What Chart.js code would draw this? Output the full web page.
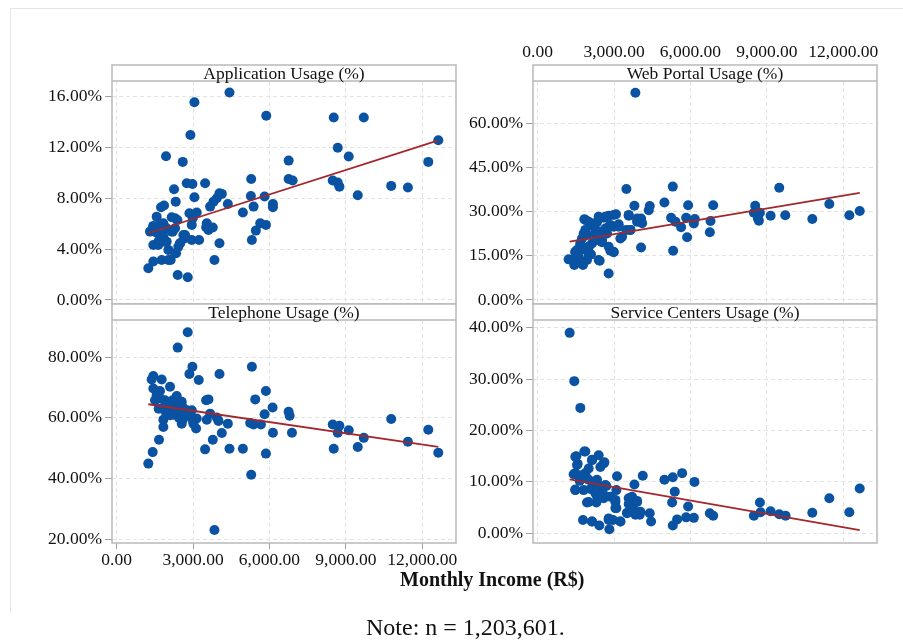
<!DOCTYPE html>
<html>
<head>
<meta charset="utf-8">
<script src="https://cdn.jsdelivr.net/npm/chart.js@4.4.1/dist/chart.umd.min.js"></script>
<style>
  body { margin: 0; background: #fff; width: 903px; height: 641px; position: relative; overflow: hidden;
         font-family: 'Liberation Serif', 'Times New Roman', serif; }
  canvas { position: absolute; left: 0; top: 0; }
  #frame { position: absolute; left: 10px; top: 8px; width: 893px; height: 604px;
           border-left: 1px solid #e6e6e6; border-top: 1px solid #e6e6e6; }
  .lbl { position: absolute; white-space: nowrap; color: #111; }
</style>
</head>
<body>
<div id="frame"></div>
<canvas id="app" width="903" height="641"></canvas>
<canvas id="web" width="903" height="641"></canvas>
<canvas id="tel" width="903" height="641"></canvas>
<canvas id="svc" width="903" height="641"></canvas>
<div class="lbl" style="left:400px;top:568px;font-size:20px;font-weight:bold">Monthly Income (R$)</div>
<div class="lbl" style="left:366px;top:614px;font-size:24px">Note: n = 1,203,601.</div>
<script>
// monthly income (x) and usage share (y) per panel
const appX = [1245,1442,1770,2124,2399,2792,3841,4038,5310,5466,5637,5860,4956,5376,5270,5808,6135,6135,5283,6752,
  6752,6909,5873,4431,3055,2897,1940,2596,2753,2976,3474,2255,2320,1744,1862,3055,3933,4038,4130,3802,
  3671,4366,2858,3146,2989,2163,2386,3540,3605,3776,3514,1442,1704,1311,1966,2294,1600,1835,2688,2491,
  1442,1639,2032,2334,1966,2950,3238,2203,8522,9701,8679,9111,12625,12232,10777,11432,9465,8482,8679,8744,
  2425,1573,1440,1833,2293,1507,1770,2164,2620,1637,1900,2490,2687,2293,2030,2950];
const appY = [2.49,3.02,3.15,3.15,1.97,1.78,3.15,4.46,4.72,5.46,6.04,5.91,6.88,7.35,8.19,8.14,7.56,7.30,9.53,10.97,
  9.53,9.40,14.51,16.33,15.56,12.99,11.31,10.87,9.19,9.13,9.19,8.71,7.74,7.30,7.43,8.08,8.01,8.40,8.35,7.74,
  7.35,7.56,6.82,6.88,6.43,6.51,6.30,6.04,5.51,5.70,5.72,5.83,5.96,5.38,5.64,5.64,5.25,4.99,5.12,4.46,
  4.33,4.59,3.94,3.67,4.59,4.72,4.72,5.38,14.36,14.36,11.99,11.29,12.57,10.87,8.98,8.85,8.24,9.40,9.24,8.92,
  4.20,6.56,5.77,6.04,6.43,5.38,5.12,5.38,5.12,4.33,4.59,4.46,4.86,3.68,3.15,5.91];

const webX = [3838,3485,5306,9484,4978,3799,4402,4362,5908,6891,8541,11449,12642,12235,10781,9720,9144,8725,8646,8685,
  8489,6786,6760,6170,6131,5830,5869,5240,5410,5633,5319,4061,4061,3904,3576,3642,3485,3249,3078,2790,
  2594,2332,2096,1834,2004,2987,3183,2659,2463,2306,2528,1939,1742,1677,1808,1480,1611,1218,1441,1782,
  2096,2437,2790,2987,2856,2135,2004,2332,2725,2856,2266,1873,1546,1349,1939,
  1352,1481,1678,1808,1874,2137,2397,2660,2986,2267,2530,2790,2986,2004,1745,2004,2397,2790,3183,3316,
  3576,3642,3906,4102];
const webY = [70.4,37.7,38.5,38.1,33.1,32.0,31.9,30.5,32.2,32.2,32.0,32.6,30.2,28.8,27.5,28.8,28.6,29.6,27.7,26.9,
  29.6,26.8,23.0,27.5,26.0,27.9,21.3,27.9,26.6,24.7,16.7,17.8,27.7,26.6,28.6,23.8,23.8,20.9,29.1,28.6,
  27.9,26.4,25.5,27.4,26.6,24.9,25.7,24.3,23.2,22.1,19.6,22.1,20.9,18.7,17.2,16.2,14.7,13.8,11.9,11.9,
  15.5,13.3,9.0,16.2,16.7,19.2,18.1,20.4,22.6,25.5,23.8,23.8,17.0,13.6,13.6,
  13.6,16.4,19.3,22.6,27.2,26.0,28.3,28.3,28.9,22.6,20.4,18.1,16.4,18.1,13.0,15.3,13.6,24.9,24.9,21.5,
  28.9,23.8,27.7,26.1];

const telX = [2792,2399,2976,2858,5310,4038,3225,1442,1377,1770,2098,1442,1704,2360,2556,1508,1901,2203,2491,1770,
  2032,2950,2386,2779,3146,3015,2556,2098,1835,1835,3120,3513,3605,3671,3540,3933,3998,4366,4130,3776,
  3474,4431,4956,3841,5283,5860,5808,5860,5441,6122,5244,5375,5664,6135,6752,6791,6883,8482,8744,8679,
  9111,8522,9465,9701,10777,11432,12232,12625,1245,1416,1665,2491,2294,2753,1573,
  1700,1900,2100,2250,2450,2600,2700,2900,3000,2200,2400,1650,1950,2600];
const telY = [88.3,83.2,76.9,74.5,76.9,74.5,72.5,73.8,72.7,72.7,70.3,69.7,68.9,67.2,65.3,65.8,65.8,65.8,63.6,63.1,
  63.6,62.5,61.4,60.9,59.8,58.1,58.1,60.9,59.4,57.0,56.5,65.8,66.1,61.4,59.4,60.1,59.0,58.1,55.0,52.8,
  49.6,49.8,49.8,23.0,41.2,48.2,61.2,68.9,66.1,63.4,58.3,57.8,57.8,55.1,62.0,60.7,55.1,57.8,57.4,55.1,
  55.9,49.8,50.4,53.4,59.6,52.1,56.1,48.5,44.9,48.7,52.8,62.0,63.6,62.5,67.5,
  66.5,64.0,62.5,61.0,60.0,59.5,61.5,60.5,59.0,65.0,64.5,63.0,61.5,63.5];

const svcX = [1258,1441,1677,1834,1520,1572,2397,2135,2620,2463,2004,1415,1742,1651,1939,2332,2699,2201,1480,1808,
  2070,2463,3092,3118,4127,3799,4978,5306,5672,6157,5384,5280,5908,5830,6131,5476,5306,4454,4402,4009,
  3904,3707,3576,3511,3773,3249,2961,2790,2817,2424,2135,1782,1939,2306,2594,3052,3092,2856,2332,6760,
  6891,8489,8725,8751,9144,9484,9733,10781,11449,12235,12642,
  1481,1874,2137,2593,1548,1481,1874,1678,2004,2334,2660,1481,2267,2593,2004,3053,3053,3576,3709,3906,
  3513,4035,2137,2790,3250,3839];
const svcY = [39.0,29.6,24.4,15.9,15.0,13.5,15.2,14.2,13.8,12.9,12.6,11.5,11.3,10.2,10.7,10.4,9.2,9.5,8.5,8.4,
  8.6,8.1,8.4,11.1,11.2,9.5,10.4,10.9,11.7,10.0,8.1,6.0,5.2,3.1,3.0,2.7,1.5,2.3,3.9,3.6,
  6.3,7.1,5.7,4.0,4.5,2.3,2.6,2.6,0.8,1.5,2.3,2.6,6.0,6.0,6.8,6.5,4.9,7.1,7.2,3.9,
  3.4,3.4,6.0,4.1,4.3,3.7,3.4,4.0,6.8,4.1,8.7,
  14.9,15.9,14.3,13.6,13.3,11.7,11.7,10.4,10.4,9.7,9.4,8.4,7.8,7.5,6.1,6.1,4.9,6.8,5.2,6.1,
  3.9,4.2,2.3,2.9,2.3,3.6];

// fitted lines, end points
const appTrend = [[1245, 5.25], [12625, 12.57]];
const webTrend = [[1258, 19.8], [12642, 36.4]];
const telTrend = [[1245, 64.5], [12625, 50.4]];
const svcTrend = [[1258, 10.5], [12642, 0.6]];

const xTicks = [0, 3000, 6000, 9000, 12000];
const appTicks = [0, 4, 8, 12, 16];
const webTicks = [0, 15, 30, 45, 60];
const telTicks = [20, 40, 60, 80];
const svcTicks = [0, 10, 20, 30, 40];

const FONT = "'Liberation Serif', 'Times New Roman', serif";
const STRIP = 16;

const stripPlugin = {
  id: 'strip',
  afterDraw(chart, args, opts) {
    const { ctx, chartArea: a } = chart;
    ctx.save();
    ctx.fillStyle = '#fff';
    ctx.fillRect(a.left, a.top - STRIP, a.right - a.left, STRIP);
    ctx.strokeStyle = '#b9b9b9';
    ctx.lineWidth = 1.5;
    ctx.strokeRect(a.left, a.top - STRIP, a.right - a.left, a.bottom - a.top + STRIP);
    ctx.beginPath();
    ctx.moveTo(a.left, a.top);
    ctx.lineTo(a.right, a.top);
    ctx.stroke();
    ctx.fillStyle = '#111';
    ctx.font = '17.5px ' + FONT;
    ctx.textAlign = 'center';
    ctx.textBaseline = 'middle';
    ctx.fillText(opts.text, (a.left + a.right) / 2, a.top - STRIP / 2 + 1);
    ctx.restore();
  }
};

const fmtX = v => v.toLocaleString('en-US', { minimumFractionDigits: 2, maximumFractionDigits: 2 });

function panel(id, title, xs, ys, trend, yTicks, box) {
  const xH = box.xPos === 'hidden' ? 0 : box.xH;
  const pad = {
    left: box.left - 112,
    right: 903 - box.right,
    top: box.xPos === 'top' ? box.top - xH : box.top,
    bottom: box.xPos === 'bottom' ? 641 - box.bottom - xH : 641 - box.bottom
  };
  return new Chart(document.getElementById(id), {
    type: 'scatter',
    data: {
      datasets: [
        { data: trend.map(([x, y]) => ({ x, y })), showLine: true, borderColor: '#a3282b',
          borderWidth: 1.8, pointRadius: 0 },
        { data: xs.map((x, i) => ({ x, y: ys[i] })), pointRadius: 5,
          backgroundColor: '#0a53a3', borderWidth: 0 }
      ]
    },
    options: {
      responsive: false,
      animation: false,
      events: [],
      layout: { padding: pad },
      plugins: { legend: { display: false }, tooltip: { enabled: false }, strip: { text: title } },
      scales: {
        x: {
          type: 'linear',
          position: box.xPos === 'top' ? 'top' : 'bottom',
          min: -180, max: 13320,
          afterBuildTicks: s => { s.ticks = xTicks.map(v => ({ value: v })); },
          afterFit: s => { s.height = xH; },
          ticks: { display: box.xPos !== 'hidden', callback: fmtX, maxRotation: 0, autoSkip: false,
                   color: '#111', font: { family: FONT, size: 17.5 }, padding: box.xPos === 'top' ? 18 : 1 },
          grid: { color: '#e3e3e3', drawTicks: box.xPos === 'bottom', tickLength: 6, tickColor: '#a0a0a0' },
          border: { display: false, dash: [4, 3] }
        },
        y: {
          min: box.yMin, max: box.yMax,
          afterBuildTicks: s => { s.ticks = yTicks.map(v => ({ value: v })); },
          afterFit: s => { s.width = 112; },
          ticks: { callback: v => v.toFixed(2) + '%', color: '#111', autoSkip: false,
                   font: { family: FONT, size: 17.5 }, padding: 3 },
          grid: { color: '#e3e3e3', tickLength: 7, tickColor: '#a0a0a0' },
          border: { display: false, dash: [4, 3] }
        }
      }
    },
    plugins: [stripPlugin]
  });
}

panel('app', 'Application Usage (%)', appX, appY, appTrend, appTicks,
  { left: 112, right: 456, top: 81, bottom: 304, yMin: -0.32, yMax: 17.24, xPos: 'hidden' });
panel('web', 'Web Portal Usage (%)', webX, webY, webTrend, webTicks,
  { left: 533, right: 877, top: 81, bottom: 304, yMin: -1.36, yMax: 74.36, xPos: 'top', xH: 40 });
panel('tel', 'Telephone Usage (%)', telX, telY, telTrend, telTicks,
  { left: 112, right: 456, top: 320, bottom: 543, yMin: 18.68, yMax: 92.32, xPos: 'bottom', xH: 30 });
panel('svc', 'Service Centers Usage (%)', svcX, svcY, svcTrend, svcTicks,
  { left: 533, right: 877, top: 320, bottom: 543, yMin: -1.89, yMax: 41.5, xPos: 'hidden' });
</script>
</body>
</html>
